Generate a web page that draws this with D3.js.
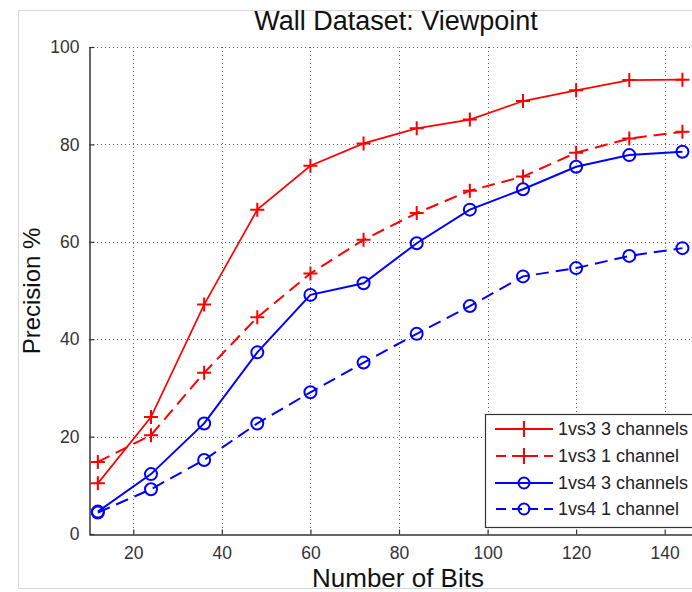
<!DOCTYPE html>
<html><head><meta charset="utf-8">
<script src="https://cdn.jsdelivr.net/npm/d3@7"></script>
<style>
html,body{margin:0;padding:0;background:#fff;}
svg{display:block;font-family:"Liberation Sans",Arial,sans-serif;}
</style></head>
<body>
<script>
const bits = [12,24,36,48,60,72,84,96,108,120,132,144];
const s1vs3_3ch = [10.4,24.0,47.1,66.6,75.6,80.2,83.3,85.1,88.9,91.1,93.2,93.3];
const s1vs3_1ch = [14.8,20.3,33.1,44.5,53.5,60.4,65.9,70.5,73.4,78.3,81.2,82.6];
const s1vs4_3ch = [4.6,12.3,22.7,37.3,49.1,51.5,59.7,66.6,70.8,75.4,77.8,78.5];
const s1vs4_1ch = [4.4,9.2,15.2,22.7,29.1,35.2,41.1,46.8,52.9,54.6,57.1,58.7];
const seriesNames = ["1vs3 3 channels","1vs3 1 channel","1vs4 3 channels","1vs4 1 channel"];
const xTicks = [20,40,60,80,100,120,140];
const yTicks = [0,20,40,60,80,100];
const titleText = "Wall Dataset: Viewpoint";
const xLabel = "Number of Bits";
const yLabel = "Precision %";

const W = 692, H = 592;
const svg = d3.select("body").append("svg").attr("width", W).attr("height", H);

// figure border
svg.append("rect").attr("x",18.5).attr("y",10.5).attr("width",760).attr("height",578)
  .attr("fill","none").attr("stroke","#d8d8d8");

const x = d3.scaleLinear().domain([10,150]).range([89,709]);
const y = d3.scaleLinear().domain([0,100]).range([534,47]);

// grid
const grid = svg.append("g").attr("stroke","#666").attr("stroke-width",1).attr("stroke-dasharray","1,3");
xTicks.forEach(t => grid.append("line").attr("x1",Math.round(x(t))+0.5).attr("x2",Math.round(x(t))+0.5).attr("y1",y(100)).attr("y2",y(0)));
yTicks.filter(t=>t>0).forEach(t => grid.append("line").attr("x1",x(10)).attr("x2",W+20).attr("y1",Math.round(y(t))+0.5).attr("y2",Math.round(y(t))+0.5));

// axes
const xAxis = d3.axisBottom(x).tickValues(xTicks).tickSizeInner(-5).tickSizeOuter(0).tickPadding(12);
const yAxis = d3.axisLeft(y).tickValues(yTicks).tickSizeInner(-5).tickSizeOuter(0).tickPadding(10);
const gx = svg.append("g").attr("transform",`translate(0,${Math.round(y(0))+0.5})`).call(xAxis);
const gy = svg.append("g").attr("transform",`translate(${Math.round(x(10))+0.5},0)`).call(yAxis);
[gx,gy].forEach(g=>{
  g.select(".domain").attr("stroke","#333").attr("stroke-width",1.5);
  g.selectAll(".tick line").attr("stroke","#333").attr("stroke-width",1.2);
  g.selectAll(".tick text").attr("fill","#333").attr("font-size",17.5).attr("font-family","'Liberation Sans',Arial,sans-serif");
});

// series
const series = [
  {vals:s1vs3_3ch, color:"#ff0000", dash:null, marker:"plus", w:1.7},
  {vals:s1vs3_1ch, color:"#ff0000", dash:"13,7", marker:"plus", w:2},
  {vals:s1vs4_3ch, color:"#0000ff", dash:null, marker:"circle", w:2},
  {vals:s1vs4_1ch, color:"#0000ff", dash:"13,7", marker:"circle", w:2}
];
const line = d3.line().x(d=>x(d[0])).y(d=>y(d[1]));
function drawMarker(g, type, cx, cy, color, size){
  if(type==="plus"){
    g.append("path").attr("d",`M${cx-size},${cy}H${cx+size}M${cx},${cy-size}V${cy+size}`)
      .attr("stroke",color).attr("stroke-width",2).attr("fill","none");
  } else {
    g.append("circle").attr("cx",cx).attr("cy",cy).attr("r",size-1)
      .attr("stroke",color).attr("stroke-width",2).attr("fill","none");
  }
}
series.forEach(s=>{
  const pts = bits.map((b,i)=>[b,s.vals[i]]);
  const g = svg.append("g");
  g.append("path").attr("d",line(pts)).attr("fill","none").attr("stroke",s.color)
    .attr("stroke-width",s.w).attr("stroke-dasharray",s.dash);
  pts.forEach(p=>drawMarker(g,s.marker,x(p[0]),y(p[1]),s.color,7));
});

// legend
const lg = svg.append("g");
lg.append("rect").attr("x",485.5).attr("y",414.5).attr("width",260).attr("height",113)
  .attr("fill","#fff").attr("stroke","#333").attr("stroke-width",1.2);
const rowY = [429,456,483,509];
series.forEach((s,i)=>{
  lg.append("line").attr("x1",495).attr("x2",553).attr("y1",rowY[i]).attr("y2",rowY[i])
    .attr("stroke",s.color).attr("stroke-width",2).attr("stroke-dasharray",s.dash?"10,6":null)
    .attr("stroke-dashoffset",s.dash?-1:0);
  drawMarker(lg,s.marker,524,rowY[i],s.color,s.marker==="plus"?8:6.5);
  lg.append("text").attr("x",558).attr("y",rowY[i]+6).attr("font-size",18).attr("fill","#222")
    .text(seriesNames[i]);
});

// titles
svg.append("text").attr("x",396).attr("y",30).attr("text-anchor","middle").attr("font-size",27)
  .attr("fill","#111").text(titleText);
svg.append("text").attr("x",398).attr("y",587).attr("text-anchor","middle").attr("font-size",26)
  .attr("fill","#111").text(xLabel);
svg.append("text").attr("transform","translate(40,291) rotate(-90)").attr("text-anchor","middle")
  .attr("font-size",24).attr("fill","#111").text(yLabel);
</script>
</body></html>
